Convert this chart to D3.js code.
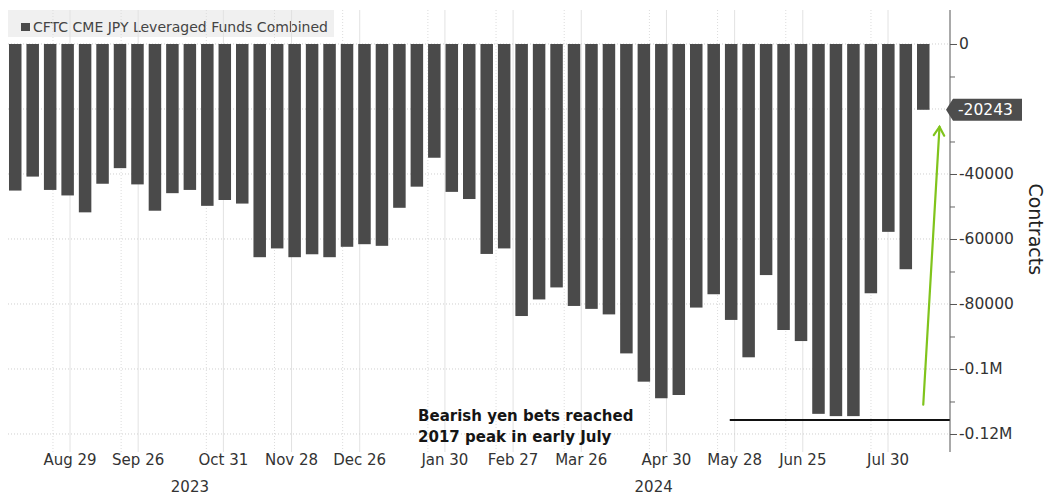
<!DOCTYPE html>
<html>
<head>
<meta charset="utf-8">
<script src="https://cdn.jsdelivr.net/npm/d3@7"></script>
<style>
  html, body { margin: 0; padding: 0; background: #fff; }
  svg { display: block; }
  text { font-family: "DejaVu Sans", Verdana, sans-serif; }
</style>
</head>
<body>
<svg id="chart" width="1048" height="495"></svg>
<script>
// Weekly report dates (CFTC Tuesday positions)
const weekDates = [
  "2023-08-08","2023-08-15","2023-08-22","2023-08-29",
  "2023-09-05","2023-09-12","2023-09-19","2023-09-26",
  "2023-10-03","2023-10-10","2023-10-17","2023-10-24","2023-10-31",
  "2023-11-07","2023-11-14","2023-11-21","2023-11-28",
  "2023-12-05","2023-12-12","2023-12-19","2023-12-26",
  "2024-01-02","2024-01-09","2024-01-16","2024-01-23","2024-01-30",
  "2024-02-06","2024-02-13","2024-02-20","2024-02-27",
  "2024-03-05","2024-03-12","2024-03-19","2024-03-26",
  "2024-04-02","2024-04-09","2024-04-16","2024-04-23","2024-04-30",
  "2024-05-07","2024-05-14","2024-05-21","2024-05-28",
  "2024-06-04","2024-06-11","2024-06-18","2024-06-25",
  "2024-07-02","2024-07-09","2024-07-16","2024-07-23","2024-07-30",
  "2024-08-06"
];

// Net positions of leveraged funds, contracts
const netPositions = [
  -45100, -40800, -44900, -46600,
  -51800, -43000, -38200, -43200,
  -51300, -45900, -44900, -49800, -48000,
  -49100, -65600, -62900, -65600,
  -64700, -65600, -62400, -61600,
  -62100, -50400, -43900, -35000, -45500,
  -47700, -64600, -62900, -83700,
  -78600, -74900, -80600, -81500,
  -83200, -95200, -103900, -109000, -108000,
  -81100, -77000, -84900, -96400,
  -71100, -88000, -91400, -113800,
  -114500, -114500, -76700, -57800, -69300,
  -20243
];

// Labelled dates on the time axis
const tickDates = [
  "2023-08-29","2023-09-26","2023-10-31","2023-11-28","2023-12-26",
  "2024-01-30","2024-02-27","2024-03-26","2024-04-30","2024-05-28",
  "2024-06-25","2024-07-30"
];
const tickLabels = [
  "Aug 29","Sep 26","Oct 31","Nov 28","Dec 26",
  "Jan 30","Feb 27","Mar 26","Apr 30","May 28","Jun 25","Jul 30"
];
const yearLabels = ["2023", "2024"];
const yearStart2024 = "2024-01-01";

const yMajorTicks = [0, -20000, -40000, -60000, -80000, -100000, -120000];
const yMinorTicks = [-10000, -30000, -50000, -70000, -90000, -110000];

const seriesName = "CFTC CME JPY Leveraged Funds Combined";
const axisTitle = "Contracts";
const noteLines = ["Bearish yen bets reached", "2017 peak in early July"];
const peak2017 = -115700;
const peakLineFrom = "2024-05-26";
const arrowFrom = -111000;
const arrowTo = -25500;

const parse = d3.timeParse("%Y-%m-%d");
const svg = d3.select("#chart");
const axisX = 950;
const plotTop = 10, plotBottom = 452;

// Bars sit on an ordinal band scale, one slot per weekly report
const x = d3.scaleBand()
  .domain(weekDates)
  .range([5.5, 933])
  .paddingInner(0.284)
  .paddingOuter(0.2);

// Calendar scale used for the date axis, grid and annotations
const t = d3.scaleTime()
  .domain([parse("2023-08-29"), parse("2024-07-30")])
  .range([70, 888]);

const y = d3.scaleLinear()
  .domain([10460, -125540])
  .range([plotTop, plotBottom]);

const cx = d => x(d) + x.bandwidth() / 2;

// Legend strip
const legend = svg.append("g");
legend.append("rect")
  .attr("x", 8).attr("y", 10).attr("width", 326).attr("height", 27)
  .attr("fill", "#f0f0f0");
legend.append("rect")
  .attr("x", 21).attr("y", 23).attr("width", 9).attr("height", 8)
  .attr("fill", "#4a4a4a");
legend.append("text")
  .attr("x", 33).attr("y", 32)
  .attr("font-size", 14)
  .attr("fill", "#444")
  .text(seriesName);

// Vertical grid at labelled dates plus a fainter dotted companion a week earlier
const grid = svg.append("g");
tickDates.forEach(d => {
  const dt = parse(d);
  grid.append("line")
    .attr("x1", t(dt)).attr("x2", t(dt))
    .attr("y1", plotTop).attr("y2", plotBottom)
    .attr("stroke", "#e2e2e2").attr("stroke-width", 1);
  const prev = d3.timeDay.offset(dt, -7);
  grid.append("line")
    .attr("x1", t(prev)).attr("x2", t(prev))
    .attr("y1", plotTop).attr("y2", plotBottom)
    .attr("stroke", "#dcdcdc").attr("stroke-width", 1)
    .attr("stroke-dasharray", "1,2");
});

// Horizontal dotted grid
yMajorTicks.forEach(v => {
  grid.append("line")
    .attr("x1", 8).attr("x2", axisX)
    .attr("y1", y(v)).attr("y2", y(v))
    .attr("stroke", "#cfcfcf").attr("stroke-width", 1)
    .attr("stroke-dasharray", "1,2");
});

// Bars
svg.append("g")
  .selectAll("rect")
  .data(weekDates.map((d, i) => ({ date: d, value: netPositions[i] })))
  .join("rect")
  .attr("x", d => x(d.date))
  .attr("width", x.bandwidth())
  .attr("y", d => y(Math.max(0, d.value)))
  .attr("height", d => Math.abs(y(d.value) - y(0)))
  .attr("fill", "#4a4a4a");

// 2017 peak reference line
svg.append("line")
  .attr("x1", t(parse(peakLineFrom))).attr("x2", axisX)
  .attr("y1", y(peak2017)).attr("y2", y(peak2017))
  .attr("stroke", "#111").attr("stroke-width", 2);

// Annotation text
const noteX = x(weekDates[24]) - 10;
const note = svg.append("text")
  .attr("x", noteX)
  .attr("y", 421)
  .attr("font-size", 15)
  .attr("font-weight", "bold")
  .attr("fill", "#151515");
noteLines.forEach((s, i) => {
  note.append("tspan")
    .attr("x", noteX)
    .attr("dy", i === 0 ? 0 : 21)
    .text(s);
});

// Green arrow pointing at the latest bar
const lastDate = weekDates[weekDates.length - 1];
const lastValue = netPositions[netPositions.length - 1];
const ax1 = cx(lastDate), ay1 = y(arrowFrom);
const ax2 = cx(lastDate) + x.step() * 0.93, ay2 = y(arrowTo);
const arrow = svg.append("g")
  .attr("stroke", "#80c41c").attr("stroke-width", 2.2)
  .attr("fill", "none").attr("stroke-linecap", "round");
arrow.append("line")
  .attr("x1", ax1).attr("y1", ay1).attr("x2", ax2).attr("y2", ay2);
{
  const ang = Math.atan2(ay2 - ay1, ax2 - ax1);
  const len = 10, spread = 0.55;
  const p1 = [ax2 - len * Math.cos(ang - spread), ay2 - len * Math.sin(ang - spread)];
  const p2 = [ax2 - len * Math.cos(ang + spread), ay2 - len * Math.sin(ang + spread)];
  arrow.append("path")
    .attr("d", `M${p1[0]},${p1[1]}L${ax2},${ay2}L${p2[0]},${p2[1]}`);
}

// Right value axis
const fmt = v => {
  if (v === 0) return "0";
  if (Math.abs(v) >= 100000) return (v / 1e6) + "M";
  return String(v);
};
const yAxis = svg.append("g")
  .attr("transform", `translate(${axisX},0)`)
  .call(d3.axisRight(y)
    .tickValues(yMajorTicks)
    .tickSize(7)
    .tickSizeOuter(0)
    .tickPadding(2)
    .tickFormat(v => v === -20000 ? "" : fmt(v)));
yAxis.select(".domain").attr("stroke", "#555")
  .attr("d", `M0,${plotTop}V${plotBottom}`);
yAxis.selectAll(".tick line").attr("stroke", "#555");
yAxis.selectAll(".tick text")
  .attr("font-size", 15.5)
  .attr("fill", "#333")
  .attr("font-family", "\"DejaVu Sans\", Verdana, sans-serif");

const yMinor = svg.append("g")
  .attr("transform", `translate(${axisX},0)`)
  .call(d3.axisRight(y).tickValues(yMinorTicks).tickSize(5).tickSizeOuter(0).tickFormat(""));
yMinor.select(".domain").remove();
yMinor.selectAll(".tick line").attr("stroke", "#666");

// Axis title
svg.append("text")
  .attr("transform", `translate(1029,${y(-57000)}) rotate(90)`)
  .attr("text-anchor", "middle")
  .attr("font-size", 19)
  .attr("fill", "#222")
  .text(axisTitle);

// Latest value tag
{
  const ty = y(lastValue);
  const tag = svg.append("g").attr("transform", `translate(${axisX},${ty})`);
  tag.append("path")
    .attr("d", "M-4,0 L3,-11 H72 V11 H3 Z")
    .attr("fill", "#4d4d4d");
  tag.append("text")
    .attr("x", 8).attr("y", 5.5)
    .attr("font-size", 15.5)
    .attr("fill", "#fff")
    .text(String(lastValue));
}

// Bottom date labels
const xl = svg.append("g");
tickDates.forEach((d, i) => {
  xl.append("text")
    .attr("x", t(parse(d))).attr("y", 465)
    .attr("text-anchor", "middle")
    .attr("font-size", 15)
    .attr("fill", "#333")
    .text(tickLabels[i]);
});

// Year labels centred over each year's span
const r0 = x.range()[0], r1 = x.range()[1];
const yearEdge = t(parse(yearStart2024));
[[r0, yearEdge], [yearEdge, r1]].forEach((span, i) => {
  xl.append("text")
    .attr("x", (span[0] + span[1]) / 2).attr("y", 492)
    .attr("text-anchor", "middle")
    .attr("font-size", 15)
    .attr("fill", "#333")
    .text(yearLabels[i]);
});
</script>
</body>
</html>
